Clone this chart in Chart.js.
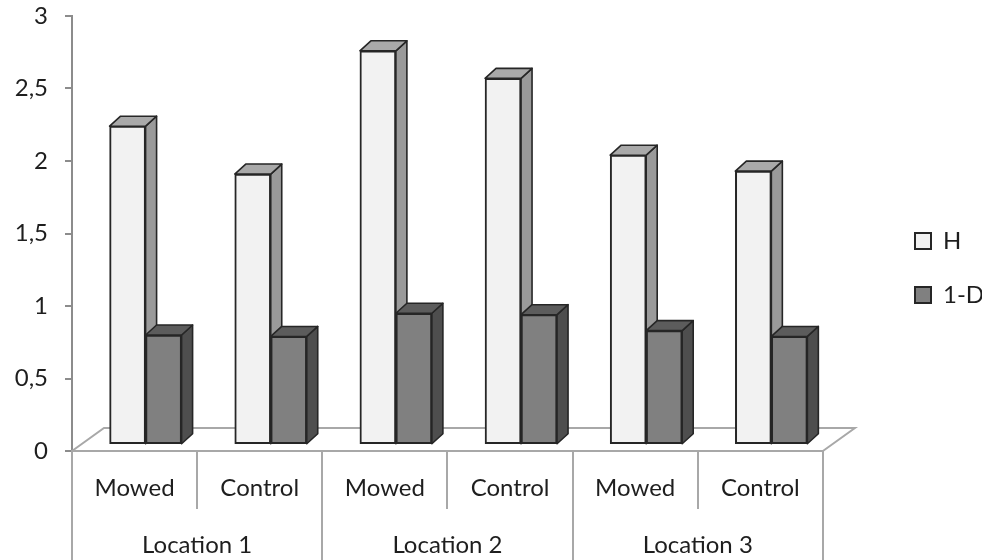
<!DOCTYPE html>
<html>
<head>
<meta charset="utf-8">
<title>H and 1-D by location and treatment</title>
<script src="https://cdn.jsdelivr.net/npm/chart.js@4.4.1/dist/chart.umd.min.js"></script>
<style>
  html, body { margin: 0; padding: 0; background: #ffffff; }
  #wrap { width: 982px; height: 560px; }
</style>
</head>
<body>
<div id="wrap"><canvas id="chart" width="982" height="560"></canvas></div>
<script>
// Diversity indices per treatment, grouped by location
const treatments = ['Mowed', 'Control', 'Mowed', 'Control', 'Mowed', 'Control'];
const locations = ['Location 1', 'Location 2', 'Location 3'];
const seriesNames = ['H', '1-D'];
const valuesH = [2.19, 1.86, 2.71, 2.52, 1.99, 1.88];
const valuesOneMinusD = [0.75, 0.74, 0.90, 0.89, 0.78, 0.74];
const yTickLabels = ['0', '0,5', '1', '1,5', '2', '2,5', '3'];

// Look of the pseudo-3D columns and floor
const FONT = { family: 'Lato, "Open Sans", sans-serif', size: 24 };
const TEXT = '#1e1e1e';
const AXIS_GREY = '#8c8c8c';
const FLOOR_GREY = '#a8a8a8';
const EDGE = '#262626';
const DEPTH_X = 11, DEPTH_Y = 10;     // column depth
const FLOOR_DX = 32, FLOOR_DY = 23;   // floor depth
const faces = [
  { front: '#f2f2f2', side: '#9a9a9a', top: '#a9a9a9' },
  { front: '#808080', side: '#4e4e4e', top: '#5c5c5c' }
];
const PLOT_TOP = 16;
const LEGEND_X = 915, LEGEND_Y = 229;

const toPoints = arr => arr.map((v, i) => ({ x: i, y: v }));

function face(ctx, pts, fill) {
  ctx.beginPath();
  ctx.moveTo(pts[0][0], pts[0][1]);
  for (let i = 1; i < pts.length; i++) ctx.lineTo(pts[i][0], pts[i][1]);
  ctx.closePath();
  ctx.fillStyle = fill;
  ctx.fill();
  ctx.lineWidth = 1.6;
  ctx.strokeStyle = EDGE;
  ctx.lineJoin = 'round';
  ctx.stroke();
}

// Floor outline under the columns, and side/top faces on every column
const depthPlugin = {
  id: 'depth',
  beforeDatasetsDraw(chart) {
    const { ctx } = chart;
    const xs = chart.scales.x, ys = chart.scales.y;
    const y0 = ys.getPixelForValue(0);
    ctx.save();
    ctx.strokeStyle = FLOOR_GREY;
    ctx.lineWidth = 2;
    ctx.beginPath();
    ctx.moveTo(xs.left, y0);
    ctx.lineTo(xs.left + FLOOR_DX, y0 - FLOOR_DY);
    ctx.lineTo(xs.right + FLOOR_DX, y0 - FLOOR_DY);
    ctx.lineTo(xs.right, y0);
    ctx.stroke();
    ctx.restore();
  },
  afterDatasetsDraw(chart) {
    const { ctx } = chart;
    ctx.save();
    [0, 1].forEach(di => {
      const meta = chart.getDatasetMeta(di);
      meta.data.forEach(bar => {
        if (di > 0) bar.draw(ctx);
        const { x, y, base, width } = bar.getProps(['x', 'y', 'base', 'width'], true);
        const l = x - width / 2, r = x + width / 2;
        face(ctx, [[r, y], [r + DEPTH_X, y - DEPTH_Y], [r + DEPTH_X, base - DEPTH_Y], [r, base]], faces[di].side);
        face(ctx, [[l, y], [l + DEPTH_X, y - DEPTH_Y], [r + DEPTH_X, y - DEPTH_Y], [r, y]], faces[di].top);
      });
    });
    ctx.restore();
  }
};

// Legend sits to the right, level with the lower half of the plot
const legendPlacement = {
  id: 'legendPlacement',
  afterLayout(chart) {
    const lg = chart.legend;
    if (!lg) return;
    const pad = lg.options.labels.padding;
    const w = lg.right - lg.left, h = lg.bottom - lg.top;
    lg.left = LEGEND_X - pad; lg.right = lg.left + w;
    lg.top = LEGEND_Y - pad; lg.bottom = lg.top + h;
  }
};

new Chart(document.getElementById('chart'), {
  type: 'bar',
  data: {
    datasets: [
      {
        label: seriesNames[0],
        data: toPoints(valuesH),
        backgroundColor: faces[0].front,
        borderColor: EDGE,
        borderWidth: 2,
        borderSkipped: false,
        xAxisID: 'xb',
        yAxisID: 'yb'
      },
      {
        label: seriesNames[1],
        data: toPoints(valuesOneMinusD),
        backgroundColor: faces[1].front,
        borderColor: EDGE,
        borderWidth: 2,
        borderSkipped: false,
        xAxisID: 'xb',
        yAxisID: 'yb'
      }
    ]
  },
  options: {
    responsive: false,
    devicePixelRatio: 1,
    animation: false,
    barThickness: 36,
    layout: { padding: { top: 0, right: 50, bottom: 0, left: 0 } },
    plugins: {
      tooltip: { enabled: false },
      legend: {
        position: 'right',
        align: 'start',
        labels: {
          boxWidth: 16,
          boxHeight: 16,
          padding: 30,
          color: TEXT,
          font: FONT
        }
      }
    },
    scales: {
      y: {
        position: 'left',
        min: 0,
        max: 3,
        ticks: {
          stepSize: 0.5,
          padding: 17,
          color: TEXT,
          font: FONT,
          callback: (v, i) => yTickLabels[i]
        },
        grid: { drawOnChartArea: false, drawTicks: true, tickLength: 7, color: AXIS_GREY, lineWidth: 2 },
        border: { display: true, color: AXIS_GREY, width: 2 },
        afterFit: s => { s.width = 72; s.paddingTop = PLOT_TOP; }
      },
      yb: {
        type: 'linear',
        display: false,
        min: -0.05,
        max: 2.95
      },
      xb: {
        type: 'linear',
        display: false,
        offset: false,
        grid: { offset: false },
        min: -0.588,
        max: 5.412
      },
      x: {
        type: 'category',
        position: 'bottom',
        labels: treatments,
        offset: true,
        ticks: { autoSkip: false, maxRotation: 0, padding: -35, color: TEXT, font: FONT },
        grid: { offset: true, drawOnChartArea: false, drawTicks: true, tickLength: 58, color: FLOOR_GREY, lineWidth: 2 },
        border: { display: true, color: FLOOR_GREY, width: 2 },
        afterFit: s => { s.height = 58; }
      },
      xLoc: {
        type: 'category',
        position: 'bottom',
        labels: locations,
        offset: true,
        ticks: { autoSkip: false, maxRotation: 0, padding: -29, color: TEXT, font: FONT },
        grid: { offset: true, drawOnChartArea: false, drawTicks: true, tickLength: 51, color: FLOOR_GREY, lineWidth: 2 },
        border: { display: false },
        afterFit: s => { s.height = 51; }
      }
    }
  },
  plugins: [depthPlugin, legendPlacement]
});
</script>
</body>
</html>
